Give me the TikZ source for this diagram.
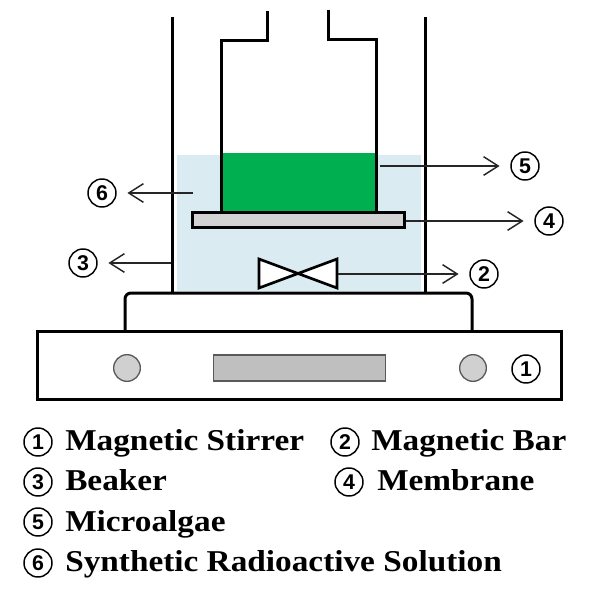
\documentclass[tikz,border=0pt]{standalone}
\usepackage{fontspec}
\setmainfont[FakeStretch=1.1]{Liberation Serif}
\newfontfamily\numfont{Liberation Sans}
\usetikzlibrary{arrows.meta}
\definecolor{solution}{HTML}{DAEBF2}
\definecolor{algae}{HTML}{00B050}
\definecolor{memb}{HTML}{D3D3D3}
\definecolor{knob}{HTML}{D0D0D0}
\definecolor{slot}{HTML}{BFBFBF}
\tikzset{
  x=0.75pt,y=-0.75pt,
  wall/.style={draw=black,line width=2.25pt},
  ptr/.style={draw=black!85,line width=1.1pt,-{Straight Barb[length=11pt,width=14pt,line width=1.1pt]},shorten >=8pt},
  num/.style={circle,draw=black,line width=1.1pt,minimum size=21pt,inner sep=0pt,font=\fontsize{16}{16}\selectfont\numfont\bfseries},
  legend/.style={anchor=base west,inner sep=0pt,font=\fontsize{22.7}{24}\selectfont\bfseries},
}
\begin{document}
\begin{tikzpicture}
\useasboundingbox (0,0) rectangle (590,596);
\fill[white] (0,0) rectangle (590,596);
% solution
\fill[solution] (177,155) rectangle (421,291);
\fill[algae] (221,153) rectangle (376,212);
% beaker
\draw[wall] (172,17) -- (172,292);
\draw[wall] (425,17) -- (425,292);
% inner cell
\draw[wall,line join=miter] (267,11) -- (267,40) -- (221,40) -- (221,212);
\draw[wall,line join=miter] (328,10) -- (328,39) -- (376,39) -- (376,212);
% membrane
\node[draw=black,line width=2.25pt,fill=memb,minimum width=159pt,minimum height=11.25pt,inner sep=0pt] (membrane) at (298,220) {};
% stirrer
\draw[wall,rounded corners=4.5pt] (125,330) -- (125,293) -- (472,293) -- (472,330);
\node[draw=black,line width=2.25pt,fill=white,minimum width=393pt,minimum height=51pt,inner sep=0pt] (base) at (299,365.5) {};
\node[circle,draw=black!65,line width=1pt,fill=knob,minimum size=20pt,inner sep=0pt] (knobL) at (127,368) {};
\node[circle,draw=black!65,line width=1pt,fill=knob,minimum size=20pt,inner sep=0pt] (knobR) at (473,368) {};
\node[draw=black!65,line width=0.8pt,fill=slot,minimum width=129.5pt,minimum height=19.5pt,inner sep=0pt] (panel) at (299.5,368) {};
% magnetic bar
\draw[draw=black,line width=2pt,fill=white,line join=miter] (259,259) -- (337,288) -- (337,259) -- (259,288) -- cycle;
% labels
\node[num] (n1) at (526,369) {1};
\node[num] (n2) at (484,274) {2};
\node[num] (n3) at (83,263) {3};
\node[num] (n4) at (549,221) {4};
\node[num] (n5) at (525,166) {5};
\node[num] (n6) at (102,193) {6};
\coordinate (t2) at (338,274);
\coordinate (t3) at (171,263);
\coordinate (t4) at (406,221);
\coordinate (t5) at (380,166);
\coordinate (t6) at (193,193);
\draw[ptr] (t2) -- (n2);
\draw[ptr] (t3) -- (n3);
\draw[ptr] (t4) -- (n4);
\draw[ptr] (t5) -- (n5);
\draw[ptr] (t6) -- (n6);
% legend
\node[num] (l1) at (38,442) {1};
\node[legend] (m1) at (65,450) {Magnetic Stirrer};
\node[num] (l2) at (345,442) {2};
\node[legend] (m2) at (371,450) {Magnetic Bar};
\node[num] (l3) at (38,482) {3};
\node[legend] (m3) at (65,490) {Beaker};
\node[num] (l4) at (349,482) {4};
\node[legend] (m4) at (377,490) {Membrane};
\node[num] (l5) at (38,522) {5};
\node[legend] (m5) at (65,531) {Microalgae};
\node[num] (l6) at (38,563) {6};
\node[legend] (m6) at (65,571) {Synthetic Radioactive Solution};
\end{tikzpicture}
\end{document}
